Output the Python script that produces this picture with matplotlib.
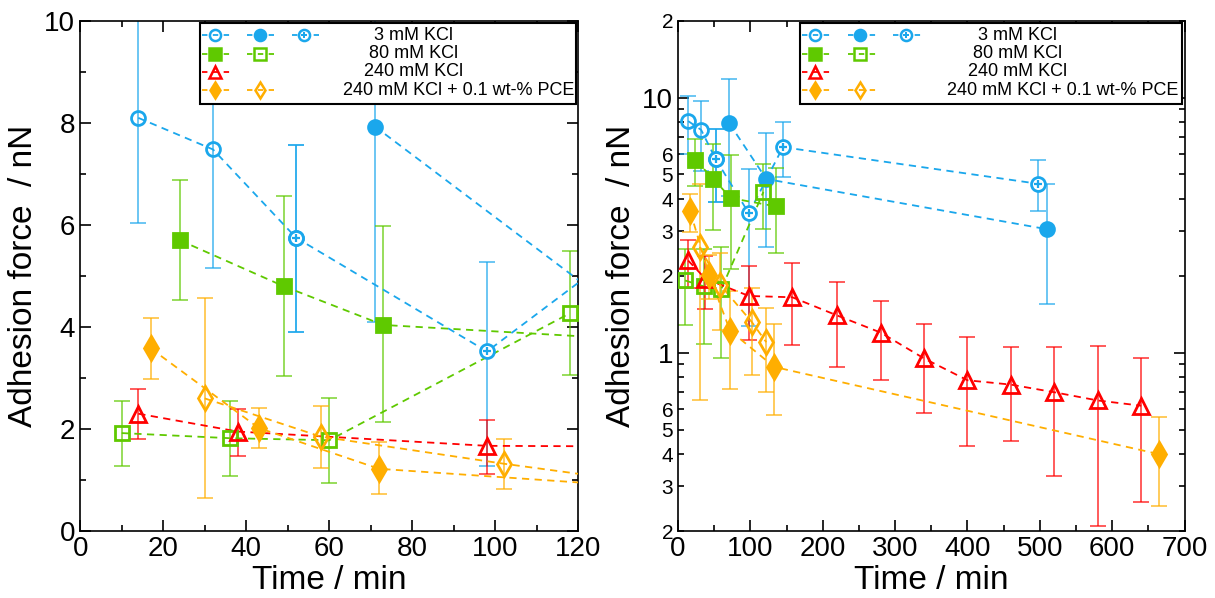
import numpy as np
import matplotlib.pyplot as plt
from matplotlib.ticker import FixedLocator, FixedFormatter, MultipleLocator

# ---- data (time in min, force in nN, error bar low/high) ----
blue_o_t = [14, 32, 52]
blue_o_f = [8.1, 7.48, 5.75]
blue_o_lo = [6.03, 5.15, 3.9]
blue_o_hi = [10.2, 9.7, 7.57]

blue_p_t = [52, 98, 145, 497]
blue_p_f = [5.75, 3.52, 6.4, 4.6]
blue_p_lo = [3.9, 1.27, 4.9, 3.6]
blue_p_hi = [7.57, 5.27, 8.0, 5.7]

blue_f_t = [71, 122, 510]
blue_f_f = [7.93, 4.8, 3.05]
blue_f_lo = [4.1, 2.6, 1.55]
blue_f_hi = [11.8, 7.3, 4.6]

green_f_t = [24, 49, 73, 135]
green_f_f = [5.7, 4.8, 4.04, 3.75]
green_f_lo = [4.52, 3.04, 2.13, 2.45]
green_f_hi = [6.88, 6.56, 5.97, 5.3]

green_o_t = [10, 36, 60, 118]
green_o_f = [1.92, 1.82, 1.78, 4.27]
green_o_lo = [1.28, 1.08, 0.95, 3.06]
green_o_hi = [2.55, 2.55, 2.6, 5.48]

red_t = [14, 38, 98, 158, 220, 280, 340, 400, 460, 520, 580, 640]
red_f = [2.3, 1.95, 1.67, 1.65, 1.4, 1.2, 0.95, 0.78, 0.75, 0.7, 0.65, 0.62]
red_lo = [1.8, 1.48, 1.12, 1.07, 0.88, 0.78, 0.58, 0.43, 0.45, 0.33, 0.21, 0.26]
red_hi = [2.78, 2.4, 2.18, 2.25, 1.9, 1.6, 1.3, 1.15, 1.05, 1.05, 1.06, 0.95]

orange_f_t = [17, 43, 72, 133, 665]
orange_f_f = [3.58, 2.02, 1.22, 0.88, 0.4]
orange_f_lo = [2.98, 1.62, 0.72, 0.57, 0.25]
orange_f_hi = [4.18, 2.42, 1.75, 1.3, 0.56]

orange_o_t = [30, 58, 102, 122]
orange_o_f = [2.6, 1.85, 1.32, 1.1]
orange_o_lo = [0.65, 1.23, 0.82, 0.7]
orange_o_hi = [4.57, 2.45, 1.8, 1.5]

BLUE = '#1AA7EC'
GREEN = '#5FC900'
RED = '#FF0000'
ORANGE = '#FFAE00'

# marker 'op' = open circle with a plus inside
series = [
    (blue_o_t, blue_o_f, blue_o_lo, blue_o_hi, BLUE, 'o', 'none', 10),
    (blue_p_t, blue_p_f, blue_p_lo, blue_p_hi, BLUE, 'op', 'white', 10),
    (blue_f_t, blue_f_f, blue_f_lo, blue_f_hi, BLUE, 'o', BLUE, 10),
    (green_f_t, green_f_f, green_f_lo, green_f_hi, GREEN, 's', GREEN, 10),
    (green_o_t, green_o_f, green_o_lo, green_o_hi, GREEN, 's', 'none', 10),
    (red_t, red_f, red_lo, red_hi, RED, '^', 'none', 11),
    (orange_f_t, orange_f_f, orange_f_lo, orange_f_hi, ORANGE, 'd', ORANGE, 12),
    (orange_o_t, orange_o_f, orange_o_lo, orange_o_hi, ORANGE, 'd', 'none', 12),
]

plt.rcParams['font.family'] = ['Liberation Sans', 'DejaVu Sans']

fig = plt.figure(figsize=(12.15, 5.98), dpi=100)
axL = fig.add_axes([0.066, 0.112, 0.410, 0.853])
axR = fig.add_axes([0.558, 0.112, 0.417, 0.853])


def plotMarker(ax, x, y, col, mk, fc, ms, mew, **kw) :
    if mk == 'op' :
        ax.plot(x, y, ls='none', marker='o', ms=ms, mfc=fc, mec=col, mew=mew, **kw)
        ax.plot(x, y, ls='none', marker='+', ms=ms * 0.6, mec=col, mew=mew * 0.8, **kw)
    else :
        ax.plot(x, y, ls='none', marker=mk, ms=ms, mfc=fc, mec=col, mew=mew, **kw)


def drawSeries(ax) :
    for t, f, lo, hi, col, mk, fc, ms in series :
        t = np.array(t); f = np.array(f)
        yerr = [f - np.array(lo), np.array(hi) - f]
        ax.errorbar(t, f, yerr=yerr, fmt='none', ecolor=col, alpha=0.75,
                    elinewidth=1.2, capsize=6, capthick=1.2, zorder=2)
        ax.plot(t, f, color=col, ls=(0, (4, 3)), lw=1.3, zorder=3)
        plotMarker(ax, t, f, col, mk, fc, ms, 2, zorder=4)


def drawLegend(ax) :
    x0, y0, w, h = 0.24, 0.838, 0.755, 0.158
    ax.add_patch(plt.Rectangle((x0, y0), w, h, transform=ax.transAxes,
                               fill=True, fc='white', ec='black', lw=1.5, zorder=10))
    rows = [
        ([(BLUE, 'o', 'none', 0.0), (BLUE, 'o', BLUE, 0.09), (BLUE, 'op', 'white', 0.18)], '3 mM KCl', 0.67),
        ([(GREEN, 's', GREEN, 0.0), (GREEN, 's', 'none', 0.09)], '80 mM KCl', 0.67),
        ([(RED, '^', 'none', 0.0)], '240 mM KCl', 0.67),
        ([(ORANGE, 'd', ORANGE, 0.0), (ORANGE, 'd', 'none', 0.09)], '240 mM KCl + 0.1 wt-% PCE', 0.76),
    ]
    for i, (marks, label, tx) in enumerate(rows) :
        yy = y0 + h - 0.024 - i * 0.036
        for col, mk, fc, dx in marks :
            xx = x0 + 0.03 + dx
            ax.plot([xx - 0.025, xx + 0.03], [yy, yy], color=col, ls=(0, (3, 3)),
                    lw=1.3, transform=ax.transAxes, zorder=11)
            plotMarker(ax, [xx], [yy], col, mk, fc, 8, 1.8,
                       transform=ax.transAxes, zorder=12)
        ax.text(tx, yy, label, ha='center', va='center', fontsize=13,
                transform=ax.transAxes, zorder=12)


for ax in (axL, axR) :
    drawSeries(ax)
    drawLegend(ax)
    ax.tick_params(direction='in', which='both', top=True, right=True,
                   labelsize=20, length=8, width=1.2)
    ax.tick_params(which='minor', length=4)
    for s in ax.spines.values() :
        s.set_linewidth(1.2)
    ax.set_xlabel('Time / min', fontsize=24, labelpad=2)
    ax.set_ylabel('Adhesion force  / nN', fontsize=24, labelpad=4)

axL.set_xlim(0, 120)
axL.set_ylim(0, 10)
axL.xaxis.set_major_locator(MultipleLocator(20))
axL.xaxis.set_minor_locator(MultipleLocator(10))
axL.yaxis.set_major_locator(MultipleLocator(2))
axL.yaxis.set_minor_locator(MultipleLocator(1))

axR.set_yscale('log')
axR.set_xlim(0, 700)
axR.set_ylim(0.2, 20)
axR.xaxis.set_major_locator(MultipleLocator(100))
axR.xaxis.set_minor_locator(MultipleLocator(50))
axR.yaxis.set_major_locator(FixedLocator([1, 10]))
axR.yaxis.set_major_formatter(FixedFormatter(['1', '10']))
minors = [0.2, 0.3, 0.4, 0.5, 0.6, 0.7, 0.8, 0.9, 2, 3, 4, 5, 6, 7, 8, 9, 20]
minor_lab = ['2', '3', '4', '5', '6', '', '', '', '2', '3', '4', '5', '6', '', '', '', '2']
axR.yaxis.set_minor_locator(FixedLocator(minors))
axR.yaxis.set_minor_formatter(FixedFormatter(minor_lab))
axR.tick_params(axis='y', which='minor', labelsize=15)

fig.savefig('out.png', dpi=100)
